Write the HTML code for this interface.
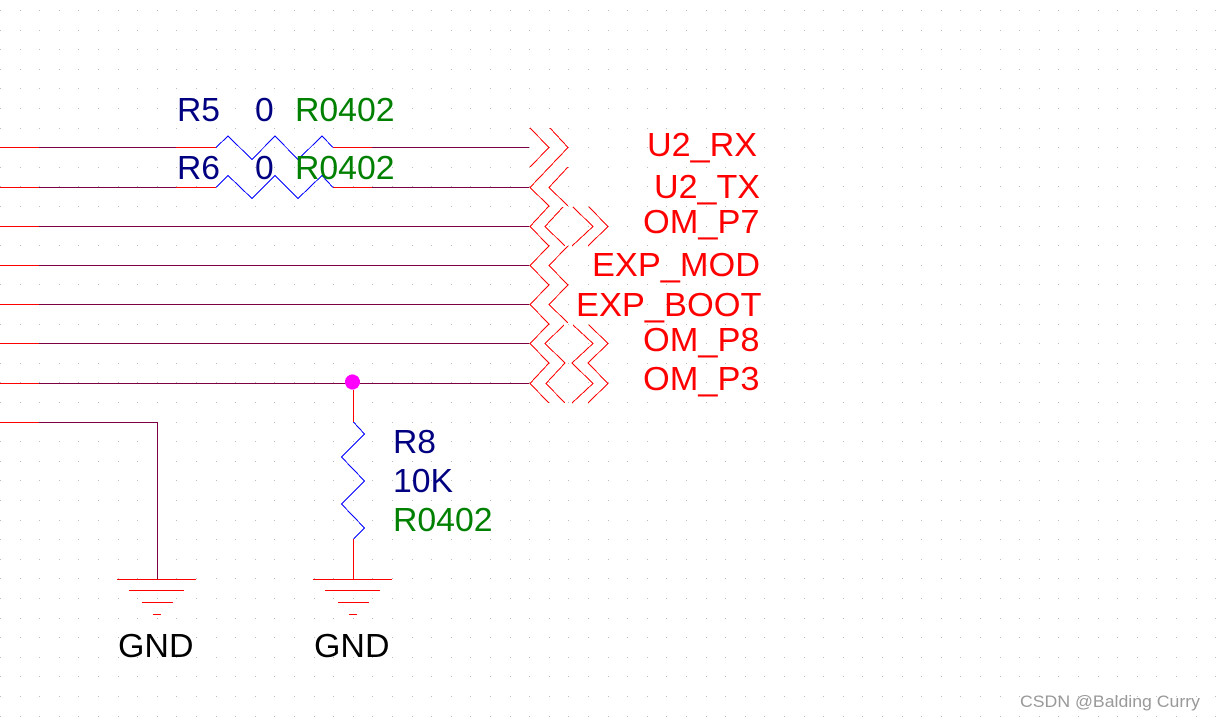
<!DOCTYPE html>
<html>
<head>
<meta charset="utf-8">
<style>
html,body{margin:0;padding:0;background:#fff;width:1216px;height:720px;overflow:hidden}
svg{display:block}
text{font-family:"Liberation Sans",Arial,sans-serif;font-size:33.6px}
.n{fill:#000080}.g{fill:#008000}.r{fill:#ff0000}.k{fill:#000}
.w{stroke:#7d0040;stroke-width:1;fill:none}
.d{stroke:#ff0000;stroke-width:1;fill:none}
.b{stroke:#0000ff;stroke-width:1;fill:none}
</style>
</head>
<body>
<svg width="1216" height="720" viewBox="0 0 1216 720" xmlns="http://www.w3.org/2000/svg">
<defs>
<pattern id="grid" x="0" y="10" width="98" height="98" patternUnits="userSpaceOnUse">
<g fill="#bdbdbd" shape-rendering="crispEdges">
<rect x="0" y="0" width="1" height="1"/><rect x="20" y="0" width="1" height="1"/><rect x="39" y="0" width="1" height="1"/><rect x="59" y="0" width="1" height="1"/><rect x="78" y="0" width="1" height="1"/>
<rect x="0" y="20" width="1" height="1"/><rect x="20" y="20" width="1" height="1"/><rect x="39" y="20" width="1" height="1"/><rect x="59" y="20" width="1" height="1"/><rect x="78" y="20" width="1" height="1"/>
<rect x="0" y="39" width="1" height="1"/><rect x="20" y="39" width="1" height="1"/><rect x="39" y="39" width="1" height="1"/><rect x="59" y="39" width="1" height="1"/><rect x="78" y="39" width="1" height="1"/>
<rect x="0" y="59" width="1" height="1"/><rect x="20" y="59" width="1" height="1"/><rect x="39" y="59" width="1" height="1"/><rect x="59" y="59" width="1" height="1"/><rect x="78" y="59" width="1" height="1"/>
<rect x="0" y="78" width="1" height="1"/><rect x="20" y="78" width="1" height="1"/><rect x="39" y="78" width="1" height="1"/><rect x="59" y="78" width="1" height="1"/><rect x="78" y="78" width="1" height="1"/>
</g>
</pattern>
</defs>
<rect width="1216" height="720" fill="#fff"/>
<rect width="1216" height="720" fill="url(#grid)"/>

<g shape-rendering="crispEdges">
<!-- wires -->
<path class="d" d="M0 147.500H39M0 187.500H39M0 226.500H39M0 265.500H39M0 304.500H39M0 343.500H39M0 383.500H39M0 422.500H39"/>
<path class="w" d="M39 147.500H176M39 187.500H176M39 226.500H529M39 265.500H529M39 304.500H529M39 343.500H529M39 383.500H529M39 422.500H157.500V579"/>
<path class="d" d="M176 147.500H216M176 187.500H216M333 147.500H372M333 187.500H372"/>
<path class="w" d="M372 147.500H529M372 187.500H529"/>
<path class="d" d="M353.500 390V422M353.500 539V579"/>
<!-- grounds -->
<path class="d" d="M117 579.500H196M129 590.500H184M142 602.500H173M153 614.500H161"/>
<path class="d" d="M313 579.500H392M325 590.500H380M338 602.500H369M349 614.500H357"/>

<!-- resistors -->
<path class="b" d="M216 147.500L228 136L252 159.500L275 136L298 159.500L322 136L333 147.500"/>
<path class="b" d="M216 187.500L228 175.500L252 198.500L275 175.500L298 198.500L322 175.500L333 187.500"/>
<path class="b" d="M353.500 422L364.500 434L341.500 457L364.500 481L341.500 504L364.500 528L353.500 539"/>

<!-- junction -->
<circle cx="352.500" cy="382" r="7.500" fill="#ff00ff"/>

<!-- port chevrons -->
<g class="d">
<path d="M530 128L549 147.500L530 167"/>
<path d="M550 128L568 147.500L530 187.500L549 206L530 226.500L549 246L530 265.500L549 285L530 304.500L549 324L530 343.500L549 363L530 383.500L549 403"/>
<path d="M568 167L549 187.500L568 206"/>
<path d="M563 207L545 226.500L565 246"/>
<path d="M568 246L549 265.500L568 285L549 304.500L568 323"/>
<path d="M564 325L545 343.500L565 363L546 383.500L565 403"/>
<path d="M573 207L593 226.500L572 246"/>
<path d="M589 207L608 226.500L588 246"/>
<path d="M573 325L593 343.500L572 363L593 383.500L572 403"/>
<path d="M589 325L608 343.500L588 363L608 383.500L588 403"/>
</g>
</g>

<!-- labels -->
<text class="n" x="177" y="121" textLength="43" lengthAdjust="spacingAndGlyphs">R5</text>
<text class="n" x="255" y="121">0</text>
<text class="g" x="295" y="121" textLength="99.500" lengthAdjust="spacingAndGlyphs">R0402</text>
<text class="n" x="177" y="179" textLength="43" lengthAdjust="spacingAndGlyphs">R6</text>
<text class="n" x="255" y="179">0</text>
<text class="g" x="295" y="179" textLength="99.500" lengthAdjust="spacingAndGlyphs">R0402</text>

<text class="r" x="647" y="156" textLength="110" lengthAdjust="spacingAndGlyphs">U2_RX</text>
<text class="r" x="654" y="198" textLength="106" lengthAdjust="spacingAndGlyphs">U2_TX</text>
<text class="r" x="643" y="233" textLength="116.500" lengthAdjust="spacingAndGlyphs">OM_P7</text>
<text class="r" x="592" y="276" textLength="168" lengthAdjust="spacingAndGlyphs">EXP_MOD</text>
<text class="r" x="576" y="316" textLength="185.500" lengthAdjust="spacingAndGlyphs">EXP_BOOT</text>
<text class="r" x="643" y="351" textLength="116.500" lengthAdjust="spacingAndGlyphs">OM_P8</text>
<text class="r" x="643" y="390" textLength="116.500" lengthAdjust="spacingAndGlyphs">OM_P3</text>

<text class="n" x="393" y="453" textLength="43" lengthAdjust="spacingAndGlyphs">R8</text>
<text class="n" x="393" y="492" textLength="60" lengthAdjust="spacingAndGlyphs">10K</text>
<text class="g" x="393" y="531" textLength="99.500" lengthAdjust="spacingAndGlyphs">R0402</text>

<text class="k" x="118" y="657" textLength="75.500" lengthAdjust="spacingAndGlyphs">GND</text>
<text class="k" x="314" y="657" textLength="75.500" lengthAdjust="spacingAndGlyphs">GND</text>

<text x="1020" y="707" fill="#999999" style="font-size:17px" textLength="180" lengthAdjust="spacingAndGlyphs">CSDN @Balding Curry</text>
</svg>
</body>
</html>
